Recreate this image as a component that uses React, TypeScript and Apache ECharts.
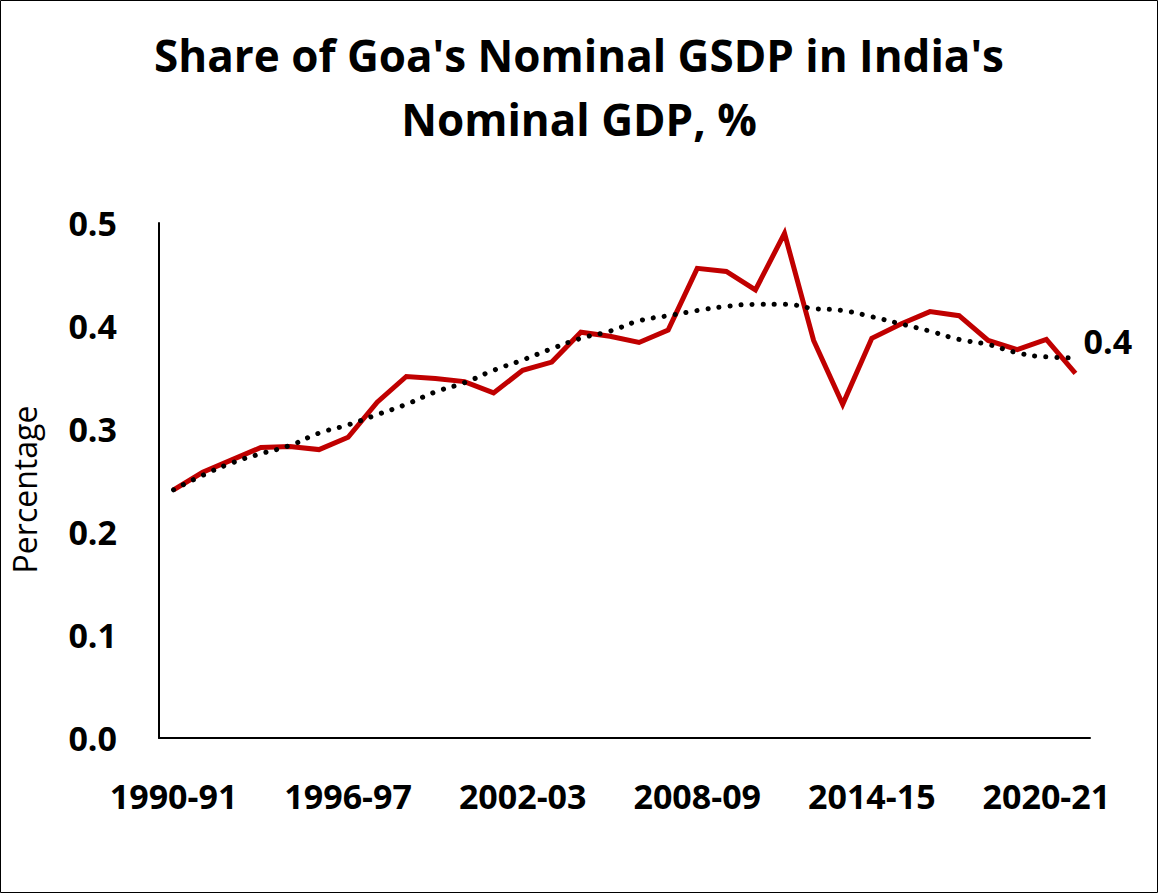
import React, { useEffect, useRef } from "react";
import * as echarts from "echarts";

const years = [
  "1990-91", "1991-92", "1992-93", "1993-94", "1994-95", "1995-96", "1996-97", "1997-98",
  "1998-99", "1999-00", "2000-01", "2001-02", "2002-03", "2003-04", "2004-05", "2005-06",
  "2006-07", "2007-08", "2008-09", "2009-10", "2010-11", "2011-12", "2012-13", "2013-14",
  "2014-15", "2015-16", "2016-17", "2017-18", "2018-19", "2019-20", "2020-21", "2021-22",
];

const goaShare = [
  0.241, 0.258, 0.27, 0.282, 0.283, 0.28, 0.292, 0.326,
  0.351, 0.349, 0.346, 0.335, 0.357, 0.365, 0.394, 0.39,
  0.384, 0.396, 0.456, 0.453, 0.435, 0.49, 0.386, 0.324,
  0.388, 0.402, 0.414, 0.41, 0.386, 0.377, 0.387, 0.354,
];

const trendShare = [
  0.241, 0.255, 0.267, 0.276, 0.284, 0.296, 0.304, 0.314,
  0.324, 0.336, 0.345, 0.357, 0.367, 0.378, 0.388, 0.395,
  0.405, 0.41, 0.415, 0.419, 0.421, 0.421, 0.417, 0.415,
  0.409, 0.402, 0.395, 0.387, 0.382, 0.374, 0.37, 0.369,
];

const titleText = "Share of Goa's Nominal GSDP in India's\nNominal GDP, %";
const yAxisName = "Percentage";

const FONT = "'Open Sans', 'Noto Sans', sans-serif";

export default function App() {
  const ref = useRef<HTMLDivElement>(null);

  useEffect(() => {
    if (!ref.current) return;
    const chart = echarts.init(ref.current, null, { renderer: "svg" });
    const last = goaShare.length - 1;
    chart.setOption({
      animation: false,
      backgroundColor: "#ffffff",
      title: {
        text: titleText,
        left: "center",
        top: 18,
        textStyle: {
          fontFamily: FONT,
          fontWeight: "bold",
          fontSize: 44,
          lineHeight: 64,
          color: "#000",
        },
      },
      graphic: [
        {
          type: "rect",
          shape: { x: 0.5, y: 0.5, width: 1157, height: 892 },
          style: { fill: "none", stroke: "#000", lineWidth: 1 },
          silent: true,
        },
      ],
      grid: {
        left: 159,
        right: 68,
        top: 223,
        bottom: 156,
        containLabel: false,
        outerBoundsMode: "none",
      },
      xAxis: {
        type: "category",
        data: years,
        boundaryGap: true,
        axisLine: { show: true, lineStyle: { color: "#000", width: 2 } },
        axisTick: { show: false },
        splitLine: { show: false },
        axisLabel: {
          interval: 5,
          margin: 41,
          fontFamily: FONT,
          fontWeight: "bold",
          fontSize: 34,
          color: "#000",
        },
      },
      yAxis: {
        type: "value",
        min: 0,
        max: 0.5,
        interval: 0.1,
        name: yAxisName,
        nameLocation: "middle",
        nameRotate: 90,
        nameGap: 119,
        nameTextStyle: {
          fontFamily: FONT,
          fontSize: 32,
          color: "#000",
          padding: [0, 18, 0, 0],
        },
        axisLine: { show: true, lineStyle: { color: "#000", width: 2 } },
        axisTick: { show: false },
        splitLine: { show: false },
        axisLabel: {
          margin: 42,
          fontFamily: FONT,
          fontWeight: "bold",
          fontSize: 34,
          color: "#000",
          formatter: (v: number) => v.toFixed(1),
        },
      },
      series: [
        {
          type: "line",
          data: goaShare.map((v, i) =>
            i === last
              ? {
                  value: v,
                  label: {
                    show: true,
                    position: "right",
                    distance: 8,
                    fontFamily: FONT,
                    fontWeight: "bold",
                    fontSize: 34,
                    color: "#000",
                    formatter: (p: any) => Number(p.value).toFixed(1),
                  },
                }
              : v
          ),
          symbol: "circle",
          symbolSize: 0.1,
          showSymbol: true,
          lineStyle: { color: "#C00000", width: 5, join: "miter" },
          itemStyle: { color: "#C00000" },
          labelLayout: (params: any) =>
            params.dataIndex === last ? { dy: -32, hideOverlap: false } : {},
          z: 2,
        },
        {
          type: "line",
          data: trendShare,
          symbol: "none",
          smooth: true,
          lineStyle: { color: "#000", width: 5, type: [0.1, 11], cap: "round" },
          itemStyle: { color: "#000" },
          z: 3,
        },
      ],
    });
    return () => chart.dispose();
  }, []);

  return (
    <div
      ref={ref}
      style={{ position: "absolute", left: 0, top: 0, width: 1158, height: 894 }}
    />
  );
}
